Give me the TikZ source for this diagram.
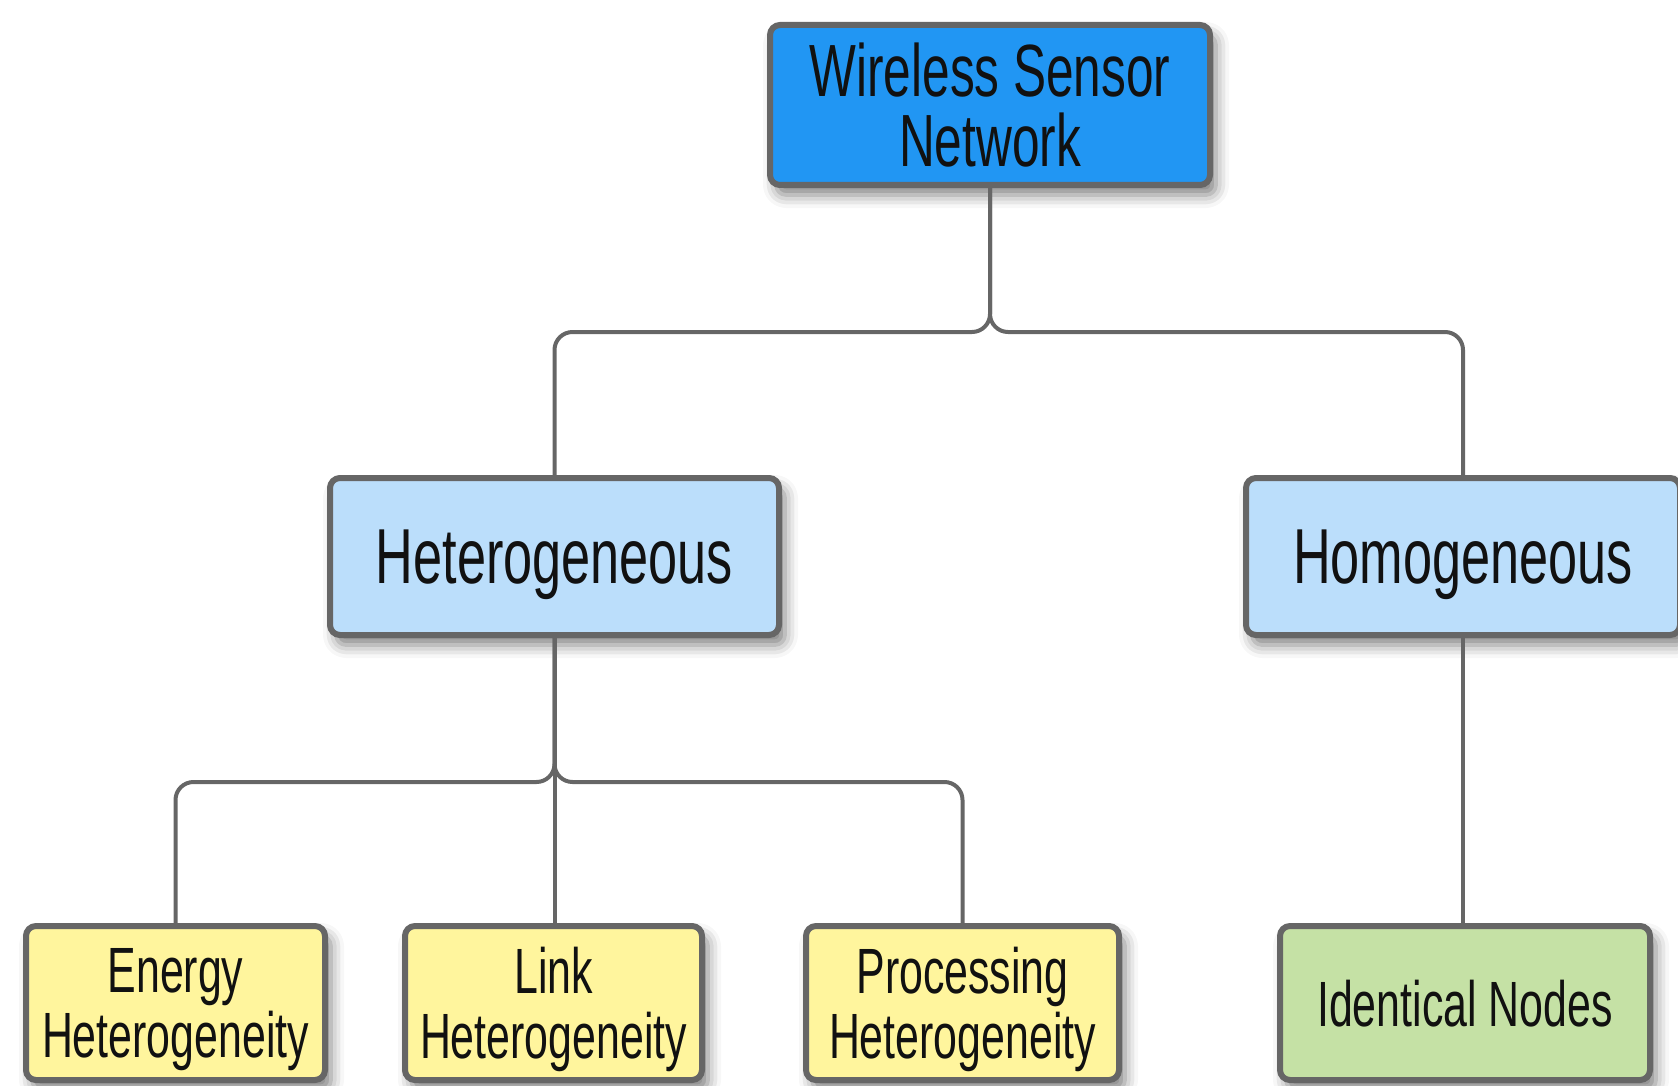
\documentclass[tikz,border=0pt]{standalone}
\usepackage{fontspec}
\setmainfont{Liberation Sans}[FakeStretch=0.67]
\usetikzlibrary{shadows.blur}

\definecolor{edgegray}{HTML}{666666}
\definecolor{rootblue}{HTML}{2196F3}
\definecolor{paleblue}{HTML}{BBDEFB}
\definecolor{paleyellow}{HTML}{FFF59D}
\definecolor{palegreen}{HTML}{C5E1A5}
\definecolor{inktext}{HTML}{111111}

\tikzset{
  box/.style={draw=edgegray, line width=6pt, rounded corners=10pt,
    inner sep=0pt, align=center, text=inktext, text depth=0pt,
    blur shadow={shadow xshift=6pt, shadow yshift=-10pt,
      shadow blur radius=13pt, shadow opacity=50}},
  rootbox/.style={box, fill=rootblue, minimum width=440pt, minimum height=160pt,
    font=\fontsize{74}{70}\selectfont},
  midbox/.style={box, fill=paleblue, minimum height=157pt,
    font=\fontsize{78}{76}\selectfont},
  leafbox/.style={box, minimum height=154pt,
    font=\fontsize{64}{65}\selectfont},
  conn/.style={draw=edgegray, line width=4pt, rounded corners=18pt}
}

\begin{document}
\begin{tikzpicture}[x=1pt, y=-1pt]
  \useasboundingbox (0,0) rectangle (1678,1086);
  \clip (0,0) rectangle (1678,1086);

  % top level
  \node[rootbox] (wsn) at (990,105) {Wireless Sensor\\Network};

  % second level
  \node[midbox, minimum width=449pt] (het) at (554.5,556.5) {Heterogeneous};
  \node[midbox, minimum width=434pt] (hom) at (1463,556.5) {Homogeneous};

  % leaves
  \node[leafbox, fill=paleyellow, minimum width=299pt] (energy) at (175.5,1003) {Energy\\Heterogeneity};
  \node[leafbox, fill=paleyellow, minimum width=297pt] (link) at (553.5,1003) {Link\\Heterogeneity};
  \node[leafbox, fill=paleyellow, minimum width=313pt] (proc) at (962.5,1003) {Processing\\Heterogeneity};
  \node[leafbox, fill=palegreen, minimum width=370pt] (ident) at (1465,1003) {Identical Nodes};

  % junction points of the buses
  \coordinate (j1) at (990,332);
  \coordinate (j2) at (554.5,782);

  % connectors from the root
  \draw[conn] (wsn.south) -- (j1) -| (het.north);
  \draw[conn] (wsn.south) -- (j1) -| (hom.north);

  % connectors below Heterogeneous
  \draw[conn] (het.south) -- (j2) -| (energy.north);
  \draw[conn] (het.south) -- (link.north -| het.south);
  \draw[conn] (het.south) -- (j2) -| (proc.north);

  % connector below Homogeneous
  \draw[conn] (hom.south) -- (ident.north -| hom.south);
\end{tikzpicture}
\end{document}
